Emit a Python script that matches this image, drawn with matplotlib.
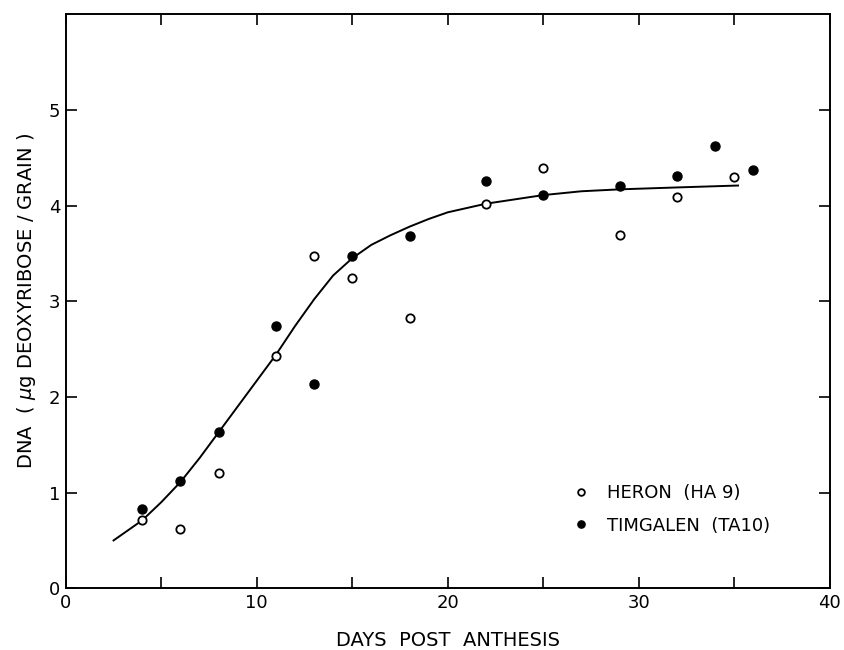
import numpy as np
import matplotlib
matplotlib.use('Agg')
import matplotlib.pyplot as plt

# data
heron_days = [4, 6, 8, 11, 13, 15, 18, 22, 25, 29, 32, 35]
heron_dna = [0.71, 0.62, 1.21, 2.43, 3.47, 3.24, 2.82, 4.02, 4.39, 3.69, 4.09, 4.30]

timgalen_days = [4, 6, 8, 11, 13, 15, 18, 22, 25, 29, 32, 34, 36]
timgalen_dna = [0.83, 1.12, 1.63, 2.74, 2.13, 3.47, 3.68, 4.26, 4.11, 4.20, 4.31, 4.62, 4.37]

# fitted curve, traced
curve_days = [2.5, 3, 4, 5, 6, 7, 8, 9, 10, 11, 12, 13, 14, 15, 16, 17, 18, 19, 20,
              22, 24, 25, 27, 29, 32, 35.2]
curve_dna = [0.50, 0.57, 0.71, 0.90, 1.11, 1.36, 1.63, 1.90, 2.17, 2.44, 2.74, 3.02,
             3.27, 3.45, 3.59, 3.69, 3.78, 3.86, 3.93, 4.02, 4.08, 4.11, 4.15, 4.17,
             4.19, 4.21]

x_ticks = [0, 5, 10, 15, 20, 25, 30, 35, 40]
x_labels = ['0', '', '10', '', '20', '', '30', '', '40']
y_ticks = [0, 1, 2, 3, 4, 5]

plt.rcParams['font.family'] = ['DejaVu Sans']

fig = plt.figure(figsize=(8.44, 6.5), dpi=100)
ax = fig.add_axes([0.078, 0.095, 0.905, 0.883])

ax.plot(curve_days, curve_dna, color='black', lw=1.4, zorder=2)
ax.plot(heron_days, heron_dna, 'o', ms=6, mfc='white', mec='black', mew=1.3,
        ls='none', label='HERON  (HA 9)', zorder=3)
ax.plot(timgalen_days, timgalen_dna, 'o', ms=6.5, mfc='black', mec='black',
        ls='none', label='TIMGALEN  (TA10)', zorder=3)

ax.set_xlim(0, 40)
ax.set_ylim(0, 6)
ax.set_xticks(x_ticks)
ax.set_xticklabels(x_labels)
ax.set_yticks(y_ticks)
ax.tick_params(direction='in', length=8, width=1.2, top=True, right=True,
               labelsize=13, pad=4)
for s in ax.spines.values():
    s.set_linewidth(1.4)

ax.set_xlabel('DAYS  POST  ANTHESIS', fontsize=14, labelpad=14)
ax.set_ylabel('DNA  ( $\\mu$g DEOXYRIBOSE / GRAIN )', fontsize=14, labelpad=8)

ax.legend(loc='lower left', bbox_to_anchor=(0.63, 0.065), frameon=False,
          fontsize=13, handletextpad=0.4, labelspacing=0.8, markerscale=0.8)

fig.savefig('out.png', dpi=100)
